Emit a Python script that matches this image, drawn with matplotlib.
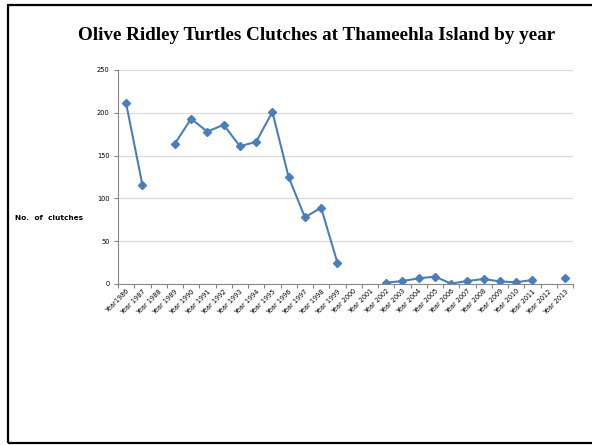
import matplotlib
matplotlib.use("Agg")
import matplotlib.pyplot as plt
import numpy as np
from matplotlib.patches import Rectangle

years = list(range(1986, 2014))
labels = ["Year1986"] + ["Year %d" % y for y in years[1:]]
clutches = [211, 116, np.nan, 164, 193, 178, 186, 161, 166, 201, 125, 78, 89, 25,
            np.nan, np.nan, 1.5, 3.5, 6.6, 8.6, 0.5, 3.5, 5.8, 3, 2, 4.7, np.nan, 6.6]

W, H = 592, 445
fig = plt.figure(figsize=(W / 100, H / 100), dpi=100)
fig.patches.append(Rectangle((7.5 / W, 1 - 443 / H), 1.0, (443 - 4.5) / H,
                             transform=fig.transFigure, fill=False,
                             edgecolor='black', linewidth=1.6, clip_on=False))
ax = fig.add_axes([118 / W, 1 - 284 / H, (573 - 118) / W, (284 - 70) / H])

x = np.arange(len(years))
ax.plot(x, clutches, color='#4A7EBB', linewidth=1.5, marker='D', markersize=4,
        markerfacecolor='#4A7EBB', markeredgecolor='#4A7EBB')

ax.set_xlim(-0.5, len(years) - 0.5)
ax.set_ylim(0, 250)
ax.set_yticks([0, 50, 100, 150, 200, 250])
ax.yaxis.grid(True, color='#D9D9D9', linewidth=0.8)
ax.set_axisbelow(True)
ax.set_xticks(x)
ax.set_xticklabels(labels, rotation=45, ha='right', rotation_mode='anchor', fontsize=4.7)
ax.set_xticks(np.arange(-0.5, len(years), 1), minor=True)
ax.tick_params(axis='x', which='major', length=0, pad=3)
ax.tick_params(axis='x', which='minor', length=3, color='#868686', width=0.8)
ax.tick_params(axis='y', labelsize=4.8, length=3, color='#868686', width=0.8, pad=3)
for s in ['top', 'right']:
    ax.spines[s].set_visible(False)
for s in ['left', 'bottom']:
    ax.spines[s].set_color('#868686')
    ax.spines[s].set_linewidth(0.8)

fig.text(317 / W, 1 - 36 / H, "Olive Ridley Turtles Clutches at Thameehla Island by year",
         ha='center', va='center', fontsize=13.8, fontweight='bold', family='Liberation Serif')
fig.text(49 / W, 1 - 218 / H, "No.  of  clutches", ha='center', va='center', fontsize=5.3,
         fontweight='bold')

fig.savefig("out.png", dpi=100)
